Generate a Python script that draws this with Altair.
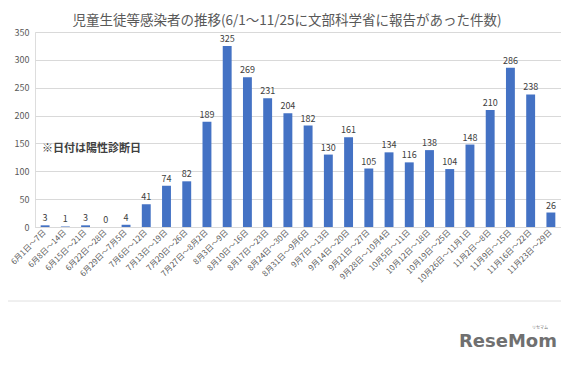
import altair as alt
import pandas as pd

categories = [
    "6月1日～7日", "6月8日～14日", "6月15日～21日", "6月22日～28日",
    "6月29日～7月5日", "7月6日～12日", "7月13日～19日", "7月20日～26日",
    "7月27日～8月2日", "8月3日～9日", "8月10日～16日", "8月17日～23日",
    "8月24日～30日", "8月31日～9月6日", "9月7日～13日", "9月14日～20日",
    "9月21日～27日", "9月28日～10月4日", "10月5日～11日", "10月12日～18日",
    "10月19日～25日", "10月26日～11月1日", "11月2日～8日", "11月9日～15日",
    "11月16日～22日", "11月23日～29日",
]
values = [3, 1, 3, 0, 4, 41, 74, 82, 189, 325, 269, 231, 204, 182, 130, 161,
          105, 134, 116, 138, 104, 148, 210, 286, 238, 26]
y_ticks = [0, 50, 100, 150, 200, 250, 300, 350]

title_text = "児童生徒等感染者の推移(6/1〜11/25に文部科学省に報告があった件数)"
note_text = "※日付は陽性診断日"

FONT = "Noto Sans CJK JP"
W, H = 526, 195

df = pd.DataFrame({"period": categories, "count": values})

xenc = alt.X("period:N", sort=categories,
             scale=alt.Scale(paddingInner=0.56, paddingOuter=0.28),
             axis=alt.Axis(title=None, labelAngle=-45, labelAlign="right",
                           labelBaseline="middle", labelFontSize=8,
                           labelColor="#595959", labelFont=FONT,
                           ticks=False, domainColor="#d9d9d9",
                           labelPadding=4, labelOverlap=False))
yenc = alt.Y("count:Q", scale=alt.Scale(domain=[0, 350], nice=False),
             axis=alt.Axis(title=None, values=y_ticks, labelFontSize=9,
                           labelColor="#595959", labelFont=FONT,
                           ticks=False, domain=False, gridColor="#d9d9d9",
                           labelPadding=6, labelOverlap=False))

base = alt.Chart(df)
bars = base.mark_bar(color="#4472C4").encode(x=xenc, y=yenc)
labels = base.mark_text(dy=-7, fontSize=9, color="#404040", font=FONT).encode(
    x=xenc, y=yenc, text="count:Q")

note = alt.Chart(pd.DataFrame({"period": [categories[0]], "count": [140],
                               "t": [note_text]})).mark_text(
    align="left", baseline="middle", fontSize=11, fontWeight="bold",
    color="#404040", font=FONT, dx=-3).encode(
    x=xenc, y=yenc, text="t:N")

border = alt.Chart(pd.DataFrame({"a": [0]})).mark_rule(
    color="#e0e0e0", strokeWidth=1).encode(
    x=alt.value(-27), x2=alt.value(W + 8), y=alt.value(269))

logo = alt.Chart(pd.DataFrame({"t": ["ReseMom"]})).mark_text(
    align="right", baseline="alphabetic", fontSize=18, fontWeight="bold",
    color="#707070", font="DejaVu Sans").encode(
    x=alt.value(522), y=alt.value(315), text="t:N")
logo_small = alt.Chart(pd.DataFrame({"t": ["リセマム"]})).mark_text(
    align="right", baseline="alphabetic", fontSize=4,
    color="#707070", font=FONT).encode(
    x=alt.value(513), y=alt.value(297), text="t:N")

chart = alt.layer(bars, labels, note, border, logo, logo_small).properties(
    width=W, height=H,
    title=alt.TitleParams(title_text, fontSize=13.5, fontWeight="normal",
                          color="#595959", font=FONT, dx=-11, offset=1),
    autosize=alt.AutoSizeParams(type="none"),
    padding={"left": 27, "top": 24, "right": 0, "bottom": 133},
).configure_view(stroke=None).configure(background="white")

chart.save("out.html", embed_options={"renderer": "svg", "actions": False})
